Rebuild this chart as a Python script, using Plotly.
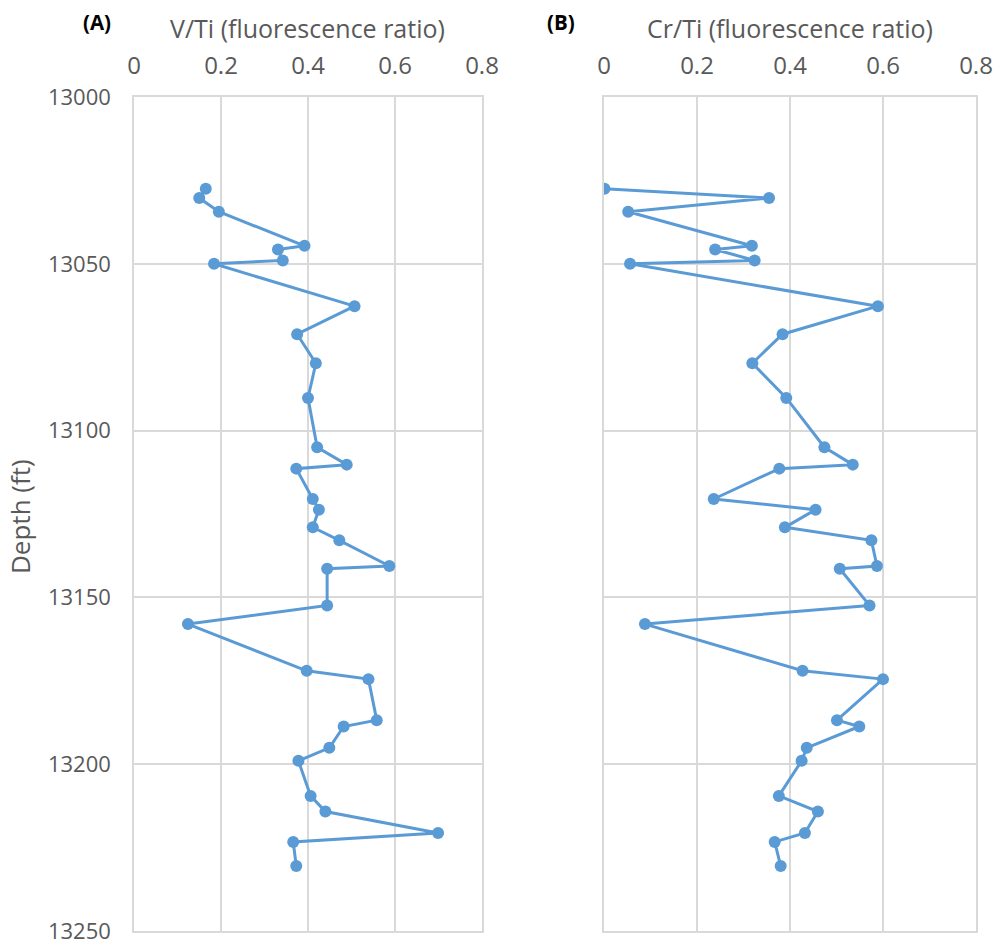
import plotly.graph_objects as go

# Sample depths (ft) shared by both logs
depth_ft = [13027.5, 13030.3, 13034.4, 13044.6, 13045.7, 13049.0, 13050.0,
            13062.7, 13071.1, 13079.8, 13090.2, 13105.0, 13110.2, 13111.4,
            13120.5, 13123.7, 13129.0, 13132.9, 13140.6, 13141.4, 13152.4,
            13158.0, 13172.0, 13174.5, 13186.8, 13188.7, 13195.1, 13199.0,
            13209.5, 13214.2, 13220.6, 13223.3, 13230.5]

# V/Ti fluorescence ratio
v_ti = [0.165, 0.150, 0.195, 0.392, 0.331, 0.342, 0.184,
        0.507, 0.375, 0.418, 0.400, 0.421, 0.489, 0.373,
        0.411, 0.425, 0.411, 0.472, 0.587, 0.444, 0.444,
        0.124, 0.397, 0.539, 0.558, 0.482, 0.449, 0.378,
        0.406, 0.440, 0.699, 0.366, 0.373]

# Cr/Ti fluorescence ratio
cr_ti = [0.001, 0.355, 0.052, 0.318, 0.239, 0.324, 0.056,
         0.589, 0.384, 0.319, 0.392, 0.474, 0.535, 0.377,
         0.236, 0.455, 0.389, 0.575, 0.587, 0.507, 0.571,
         0.088, 0.427, 0.600, 0.501, 0.549, 0.436, 0.425,
         0.376, 0.460, 0.432, 0.367, 0.380]

x_ticks = [0, 0.2, 0.4, 0.6, 0.8]
x_tick_text = ["0", "0.2", "0.4", "0.6", "0.8"]
y_ticks = [13000, 13050, 13100, 13150, 13200, 13250]
y_tick_text = ["13000", "13050", "13100", "13150", "13200", "13250"]

BLUE = "#5b9bd5"
GRID = "#d9d9d9"
TEXT = "#595959"
FONT = "Open Sans"

W, H = 996, 945
L, R, T, B = 134, 20, 97, 14
pw = W - L - R
ph = H - T - B


def px_to_paper(px_x, px_y):
    return (px_x - L) / pw, 1 - (px_y - T) / ph


def xdom(px0, px1):
    return [(px0 - L) / pw, (px1 - L) / pw]


fig = go.Figure()
for vals, xa, ya in ((v_ti, "x", "y"), (cr_ti, "x2", "y2")):
    fig.add_trace(go.Scatter(x=vals, y=depth_ft, mode="lines+markers",
                             line=dict(color=BLUE, width=3),
                             marker=dict(color=BLUE, size=12),
                             xaxis=xa, yaxis=ya, showlegend=False))

x_tickfont = dict(family=FONT, size=24, color=TEXT)
common_x = dict(range=[0, 0.8], side="top", tickvals=x_ticks, ticktext=x_tick_text,
                showgrid=True, gridcolor=GRID, gridwidth=1.5,
                showline=True, linecolor=GRID, linewidth=1.5, mirror=True,
                zeroline=False, ticks="", ticklabelstandoff=12, automargin=False)
common_y = dict(range=[13250, 13000], tickvals=y_ticks, ticktext=y_tick_text,
                showgrid=True, gridcolor=GRID, gridwidth=1.5,
                showline=True, linecolor=GRID, linewidth=1.5, mirror=True,
                zeroline=False, ticks="", automargin=False)

annotations = []
for text, px_x, px_y, size, color in (
    ("V/Ti (fluorescence ratio)", 307, 28, 25, TEXT),
    ("Cr/Ti (fluorescence ratio)", 790, 28, 25, TEXT),
    ("<b>(A)</b>", 97, 22, 20.5, "black"),
    ("<b>(B)</b>", 561, 22, 20.5, "black"),
):
    ax, ay = px_to_paper(px_x, px_y)
    annotations.append(dict(text=text, x=ax, y=ay, xref="paper", yref="paper",
                            xanchor="center", yanchor="middle", showarrow=False,
                            font=dict(family=FONT, size=size, color=color)))
ax, ay = px_to_paper(20, 517)
annotations.append(dict(text="Depth (ft)", x=ax, y=ay, xref="paper", yref="paper",
                        xanchor="center", yanchor="middle", textangle=-90,
                        showarrow=False, font=dict(family=FONT, size=26, color=TEXT)))

fig.update_layout(
    width=W, height=H,
    margin=dict(l=L, r=R, t=T, b=B),
    paper_bgcolor="white", plot_bgcolor="white",
    xaxis=dict(domain=xdom(134, 482), anchor="y", tickfont=x_tickfont, **common_x),
    xaxis2=dict(domain=xdom(604, 976), anchor="y2", tickfont=x_tickfont, **common_x),
    yaxis=dict(anchor="x", showticklabels=True, ticklabelstandoff=17,
               ticklabeloverflow="allow",
               tickfont=dict(family=FONT, size=22, color=TEXT), **common_y),
    yaxis2=dict(anchor="x2", showticklabels=False, **common_y),
    annotations=annotations,
)

fig.write_html("out.html")
